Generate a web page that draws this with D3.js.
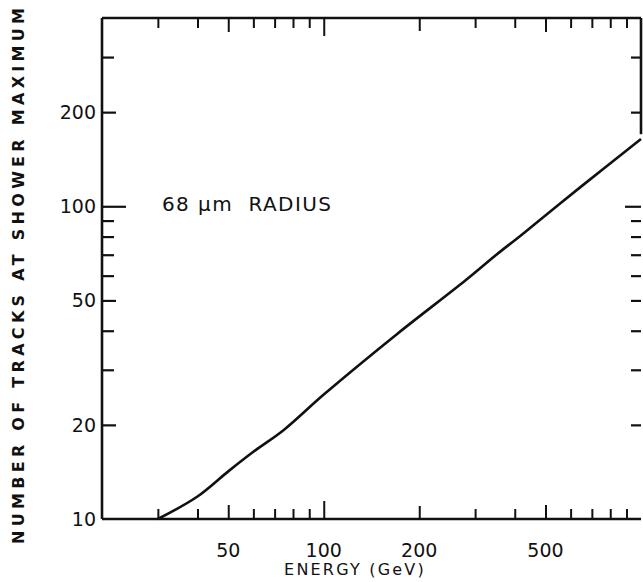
<!DOCTYPE html>
<html>
<head>
<meta charset="utf-8">
<script src="https://cdn.jsdelivr.net/npm/d3@7"></script>
<style>
  html, body { margin: 0; padding: 0; background: #fff; }
  svg { display: block; }
</style>
</head>
<body>
<svg id="chart" width="643" height="582"></svg>
<script>
// ---- data ----
const energy = [30, 40, 50, 60, 75, 100, 170, 280, 350, 420, 650, 1000];
const tracks = [10, 11.8, 14.2, 16.4, 19.3, 25, 39, 58, 70, 81, 116, 164];
const xTickLabels = [50, 100, 200, 500];
const yTickLabels = [10, 20, 50, 100, 200];
const xMinorTicks = [30, 40, 50, 60, 70, 80, 90, 100, 200, 300, 400, 500, 600, 700, 800, 900];
const yMinorTicks = [20, 30, 40, 50, 60, 70, 80, 90, 100, 200, 300];
const annotation = "68 µm  RADIUS";

(function () {
const svg = d3.select("#chart");
const L = 102, R = 641, T = 18, B = 519;
const x = d3.scaleLog().domain([20, 1000]).range([L, R]);
const y = d3.scaleLog().domain([10, 400]).range([B, T]);

const ink = "#111";
const fontMain = "'DejaVu Sans', 'Liberation Sans', sans-serif";

function xLen(v) { return v === 100 ? 18 : (v === 50 || v === 500) ? 14 : v === 200 ? 13 : 10; }
function yLen(v) { return v === 100 ? 24 : (v === 20 || v === 50 || v === 200) ? 14 : 12; }

const axB = d3.axisBottom(x).tickValues(xMinorTicks).tickSizeInner(0).tickSizeOuter(0).tickFormat("");
const gB = svg.append("g").attr("transform", `translate(0,${B})`).call(axB);
gB.select(".domain").remove();
gB.selectAll(".tick line").attr("y2", d => -xLen(d)).attr("stroke", ink).attr("stroke-width", 2);

const axT = d3.axisTop(x).tickValues(xMinorTicks).tickSizeInner(0).tickSizeOuter(0).tickFormat("");
const gT = svg.append("g").attr("transform", `translate(0,${T})`).call(axT);
gT.select(".domain").remove();
gT.selectAll(".tick line").attr("y2", d => xLen(d)).attr("stroke", ink).attr("stroke-width", 2);

const axL = d3.axisLeft(y).tickValues(yMinorTicks).tickSizeInner(0).tickSizeOuter(0).tickFormat("");
const gL = svg.append("g").attr("transform", `translate(${L},0)`).call(axL);
gL.select(".domain").remove();
gL.selectAll(".tick line").attr("x2", d => yLen(d)).attr("stroke", ink).attr("stroke-width", 2.2);

const axR = d3.axisRight(y).tickValues(yMinorTicks).tickSizeInner(0).tickSizeOuter(0).tickFormat("");
const gR = svg.append("g").attr("transform", `translate(${R},0)`).call(axR);
gR.select(".domain").remove();
gR.selectAll(".tick line").attr("x2", d => -(d === 100 ? 16 : 10)).attr("stroke", ink).attr("stroke-width", 2.2);

// frame
svg.append("line").attr("x1", L).attr("x2", R).attr("y1", B).attr("y2", B).attr("stroke", ink).attr("stroke-width", 2.6);
svg.append("line").attr("x1", L).attr("x2", R).attr("y1", T).attr("y2", T).attr("stroke", ink).attr("stroke-width", 2.6);
svg.append("line").attr("x1", L).attr("x2", L).attr("y1", T).attr("y2", B).attr("stroke", ink).attr("stroke-width", 2.6);
svg.append("line").attr("x1", R).attr("x2", R).attr("y1", T).attr("y2", y(170)).attr("stroke", ink).attr("stroke-width", 2.6);

// tick labels
svg.append("g").selectAll("text").data(xTickLabels).join("text")
  .attr("x", d => x(d)).attr("y", 557)
  .attr("text-anchor", "middle")
  .attr("font-family", fontMain).attr("font-size", 19).attr("fill", ink)
  .text(d => d);

svg.append("g").selectAll("text").data(yTickLabels).join("text")
  .attr("x", L - 6).attr("y", d => y(d) + 7)
  .attr("text-anchor", "end")
  .attr("font-family", fontMain).attr("font-size", 19).attr("fill", ink)
  .text(d => d);

// axis titles
svg.append("text")
  .attr("x", 355).attr("y", 575)
  .attr("text-anchor", "middle")
  .attr("font-family", fontMain).attr("font-size", 16).attr("letter-spacing", 2.2).attr("fill", ink)
  .text("ENERGY (GeV)");

svg.append("text")
  .attr("transform", "translate(24,276) rotate(-90)")
  .attr("text-anchor", "middle")
  .attr("font-family", fontMain).attr("font-size", 16).attr("font-weight", "bold").attr("fill", ink)
  .attr("textLength", 536).attr("lengthAdjust", "spacing")
  .text("NUMBER OF TRACKS AT SHOWER MAXIMUM");

// annotation
svg.append("text")
  .attr("x", 162).attr("y", 211)
  .style("white-space", "pre")
  .attr("font-family", fontMain).attr("font-size", 20).attr("letter-spacing", 1.4).attr("fill", ink)
  .text(annotation);

// curve
const line = d3.line().x(d => x(d[0])).y(d => y(d[1])).curve(d3.curveCatmullRom.alpha(0.5));
svg.append("path")
  .datum(energy.map((e, i) => [e, tracks[i]]))
  .attr("d", line)
  .attr("fill", "none").attr("stroke", ink).attr("stroke-width", 2.6);
})();
</script>
</body>
</html>
